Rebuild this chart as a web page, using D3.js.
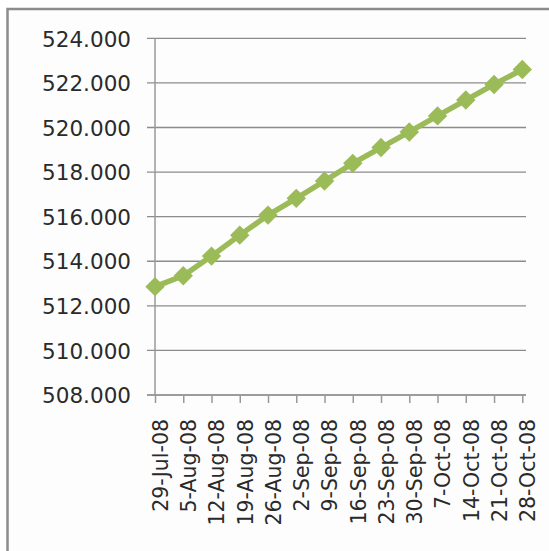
<!DOCTYPE html>
<meta charset="utf-8">
<html>
<head><title>weekly line chart</title>
    <script src="https://cdn.jsdelivr.net/npm/d3@7"></script>
    <style>
        body { margin: 0; background: #fff; }
        .frame { fill: #fdfdfd; stroke: #8c8c8c; stroke-width: 2.5; }
        .grid line { stroke: #8c8c8c; stroke-width: 1.3; }
        .axis path, .axis line { stroke: #999; stroke-width: 1.5; }
        text { font-family: "DejaVu Sans", sans-serif; fill: #2a2a2a; }
    </style>
</head>
<body>
<div id="chart"></div>
<script>

    // weekly dates and values
    var dates = ["29-Jul-08", "5-Aug-08", "12-Aug-08", "19-Aug-08", "26-Aug-08", "2-Sep-08", "9-Sep-08",
        "16-Sep-08", "23-Sep-08", "30-Sep-08", "7-Oct-08", "14-Oct-08", "21-Oct-08", "28-Oct-08"];
    var values = [512.86, 513.35, 514.23, 515.17, 516.07, 516.82, 517.6,
        518.39, 519.1, 519.8, 520.52, 521.23, 521.93, 522.6];
    var yTicks = [508, 510, 512, 514, 516, 518, 520, 522, 524];

    var W = 549, H = 551;
    var x0 = 155, x1 = 522.3, yTop = 38.3, yBot = 395;

    var svg = d3.select("#chart").append("svg")
        .attr("width", W)
        .attr("height", H);

    // outer chart frame (only top/left edge visible)
    svg.append("rect")
        .attr("class", "frame")
        .attr("x", 7.5)
        .attr("y", 9)
        .attr("width", W + 20)
        .attr("height", H + 20);

    var x = d3.scalePoint().domain(dates).range([x0, x1]);
    var y = d3.scaleLinear().domain([508, 524]).range([yBot, yTop]);

    // horizontal gridlines
    svg.append("g")
        .attr("class", "grid")
        .selectAll("line")
        .data(yTicks)
        .enter()
        .append("line")
        .attr("x1", x0 - 8)
        .attr("x2", 526)
        .attr("y1", function(d) { return y(d); })
        .attr("y2", function(d) { return y(d); });

    // y axis
    var yAxis = svg.append("g")
        .attr("class", "axis")
        .attr("transform", "translate(" + x0 + ",0)")
        .call(d3.axisLeft(y).tickValues(yTicks).tickSize(0).tickPadding(24)
            .tickFormat(d3.format(".3f")));
    yAxis.select(".domain").attr("d", "M0," + yTop + "V" + yBot);
    yAxis.selectAll("text").style("font-size", "21.5px").attr("dy", "0.36em");

    // x axis
    var xAxis = svg.append("g")
        .attr("class", "axis")
        .attr("transform", "translate(0," + yBot + ")")
        .call(d3.axisBottom(x).tickSize(8).tickPadding(0));
    xAxis.select(".domain").attr("d", "M" + (x0 - 8) + ",0H526");
    xAxis.selectAll("text")
        .style("font-size", "20.5px")
        .attr("text-anchor", "end")
        .attr("transform", "translate(5,24) rotate(-90)")
        .attr("x", 0)
        .attr("y", 0)
        .attr("dy", "0.36em");

    // the series
    var line = d3.line()
        .x(function(d, i) { return x(dates[i]); })
        .y(function(d) { return y(d); });

    svg.append("path")
        .datum(values)
        .attr("fill", "none")
        .attr("stroke", "#9BBB59")
        .attr("stroke-width", 5.5)
        .attr("stroke-linejoin", "round")
        .attr("d", line);

    svg.selectAll(".marker")
        .data(values)
        .enter()
        .append("path")
        .attr("class", "marker")
        .attr("fill", "#9BBB59")
        .attr("d", d3.symbol().type(d3.symbolDiamond2).size(240))
        .attr("transform", function(d, i) { return "translate(" + x(dates[i]) + "," + y(d) + ")"; });

</script>
</body>
</html>
